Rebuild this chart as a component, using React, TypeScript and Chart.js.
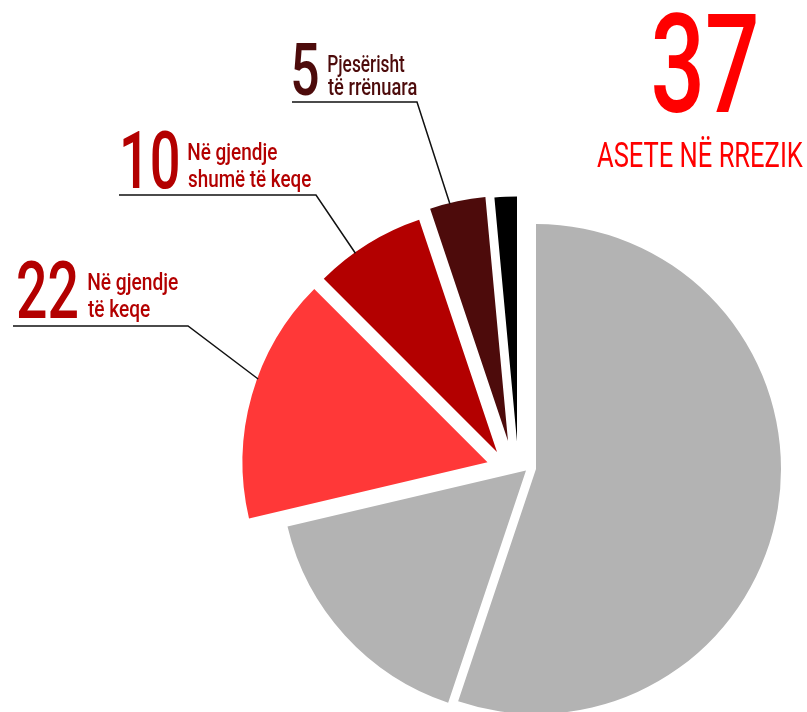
import React, { useEffect, useRef } from 'react';
import { Chart, registerables } from 'chart.js';

Chart.register(...registerables);

// ---------- data ----------
const CATEGORIES = [
  'Në gjendje të mirë',
  'Në gjendje të pranueshme',
  'Në gjendje të keqe',
  'Në gjendje shumë të keqe',
  'Pjesërisht të rrënuara',
  'Të rrënuara',
];
const VALUES = [75, 22, 22, 10, 5, 2];
const AT_RISK_INDEXES = [2, 3, 4];
const HEADLINE_LABEL = 'ASETE NË RREZIK';
const CALLOUT_TEXTS = [
  ['Në gjendje', 'të keqe'],
  ['Në gjendje', 'shumë të keqe'],
  ['Pjesërisht', 'të rrënuara'],
];

// ---------- styles / layout ----------
const COLORS = ['#b3b3b3', '#b3b3b3', '#ff3838', '#b30000', '#4d0b0b', '#000000'];
// exploded-slice displacement (px) per slice
const SLICE_SHIFT: [number, number][] = [
  [0, 0],
  [-10, 1.5],
  [-48.5, -6.7],
  [-39, -17],
  [-28, -28],
  [-19, -27.5],
];
const FONT = 'Roboto, "Open Sans", sans-serif';

const CALLOUT_LAYOUT = [
  {
    num: { x: 18, w: 59, cap: 58, base: 318 },
    lines: [
      { x: 88, w: 90, base: 290 },
      { x: 88, w: 62, base: 317 },
    ],
    cap: 16.7,
    rule: { x0: 13, x1: 188, y: 326 },
    frac: 0.57,
    color: '#b30000',
  },
  {
    num: { x: 123, w: 55, cap: 58, base: 188 },
    lines: [
      { x: 188, w: 89, base: 159.5 },
      { x: 188, w: 123, base: 187 },
    ],
    cap: 16.7,
    rule: { x0: 119, x1: 316, y: 195 },
    frac: 0.36,
    color: '#b30000',
  },
  {
    num: { x: 293, w: 25, cap: 52, base: 95 },
    lines: [
      { x: 328, w: 77, base: 72 },
      { x: 328, w: 89, base: 95 },
    ],
    cap: 16.7,
    rule: { x0: 292, x1: 417, y: 102 },
    frac: 0.36,
    color: '#4d0b0b',
  },
];
const HEADLINE_LAYOUT = {
  num: { x: 654, w: 102, cap: 99, base: 112 },
  label: { x: 597, w: 206, cap: 25, base: 167 },
  color: '#ff0000',
};

function fontSizeForCap(ctx: CanvasRenderingContext2D, cap: number, weight: number) {
  ctx.font = `${weight} 100px ${FONT}`;
  const h = ctx.measureText('H').actualBoundingBoxAscent || 71;
  return (cap / h) * 100;
}

function drawFitted(
  ctx: CanvasRenderingContext2D,
  text: string,
  x: number,
  base: number,
  size: number,
  width: number,
  color: string,
  weight: number
) {
  ctx.save();
  ctx.font = `${weight} ${size}px ${FONT}`;
  ctx.textAlign = 'left';
  ctx.textBaseline = 'alphabetic';
  const m = ctx.measureText(text);
  const left = m.actualBoundingBoxLeft;
  const inkW = left + m.actualBoundingBoxRight;
  const s = width / inkW;
  ctx.fillStyle = color;
  ctx.translate(x, base);
  ctx.scale(s, 1);
  ctx.fillText(text, left, 0);
  ctx.restore();
}

const shiftPlugin = {
  id: 'sliceShift',
  afterUpdate(chart: any) {
    const meta = chart.getDatasetMeta(0);
    meta.data.forEach((arc: any, i: number) => {
      const [dx, dy] = SLICE_SHIFT[i] || [0, 0];
      arc.x += dx;
      arc.y += dy;
    });
  },
};

const calloutPlugin = {
  id: 'callouts',
  afterDraw(chart: any) {
    const ctx: CanvasRenderingContext2D = chart.ctx;
    const meta = chart.getDatasetMeta(0);
    const values: number[] = chart.data.datasets[0].data;

    AT_RISK_INDEXES.forEach((sliceIdx, k) => {
      const L = CALLOUT_LAYOUT[k];
      const arc = meta.data[sliceIdx];
      const { x, y, startAngle, endAngle, outerRadius } = arc.getProps(
        ['x', 'y', 'startAngle', 'endAngle', 'outerRadius'],
        true
      );
      const a = startAngle + (endAngle - startAngle) * L.frac;
      const px = x + Math.cos(a) * (outerRadius - 1);
      const py = y + Math.sin(a) * (outerRadius - 1);

      ctx.save();
      ctx.strokeStyle = '#111111';
      ctx.lineWidth = 1.5;
      ctx.beginPath();
      ctx.moveTo(L.rule.x0, L.rule.y);
      ctx.lineTo(L.rule.x1, L.rule.y);
      ctx.lineTo(px, py);
      ctx.stroke();
      ctx.restore();

      const numSize = fontSizeForCap(ctx, L.num.cap, 500);
      drawFitted(ctx, String(values[sliceIdx]), L.num.x, L.num.base, numSize, L.num.w, L.color, 500);
      const txtSize = fontSizeForCap(ctx, L.cap, 500);
      CALLOUT_TEXTS[k].forEach((line, j) => {
        const ln = L.lines[j];
        drawFitted(ctx, line, ln.x, ln.base, txtSize, ln.w, L.color, 500);
      });
    });

    const total = AT_RISK_INDEXES.reduce((s, i) => s + values[i], 0);
    const H = HEADLINE_LAYOUT;
    const bigSize = fontSizeForCap(ctx, H.num.cap, 500);
    drawFitted(ctx, String(total), H.num.x, H.num.base, bigSize, H.num.w, H.color, 500);
    const lblSize = fontSizeForCap(ctx, H.label.cap, 400);
    drawFitted(ctx, HEADLINE_LABEL, H.label.x, H.label.base, lblSize, H.label.w, H.color, 400);
  },
};

export default function App() {
  const ref = useRef<HTMLCanvasElement | null>(null);
  useEffect(() => {
    if (!ref.current) return;
    const chart = new Chart(ref.current, {
      type: 'pie',
      data: {
        labels: CATEGORIES,
        datasets: [
          {
            data: VALUES,
            backgroundColor: COLORS,
            borderWidth: 0,
          },
        ],
      },
      options: {
        responsive: false,
        animation: false,
        radius: 245,
        layout: { padding: { left: 265, top: 226, right: 0, bottom: 0 } },
        events: [],
        plugins: {
          legend: { display: false },
          tooltip: { enabled: false },
        },
      } as any,
      plugins: [shiftPlugin, calloutPlugin],
    });
    return () => chart.destroy();
  }, []);
  return (
    <div style={{ position: 'absolute', left: 0, top: 0, width: 807, height: 712, background: '#fff' }}>
      <canvas ref={ref} width={807} height={712} style={{ display: 'block' }} />
    </div>
  );
}
